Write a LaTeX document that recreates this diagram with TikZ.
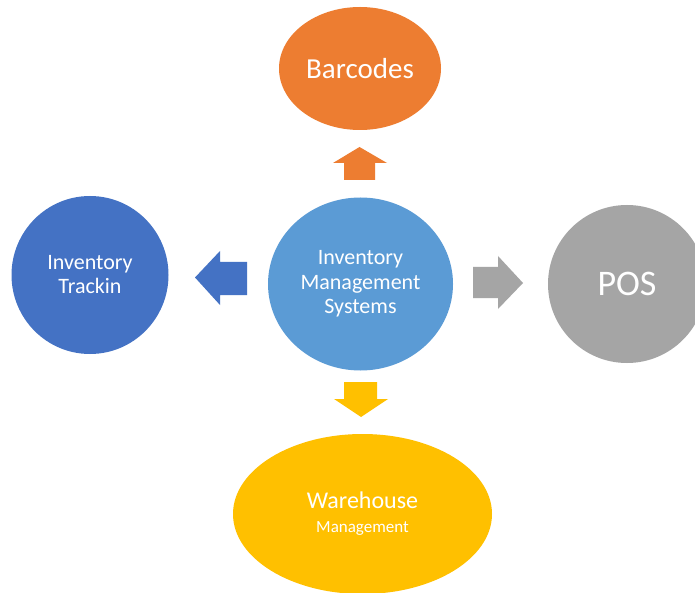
\documentclass[tikz,border=0pt]{standalone}
\usepackage{fontspec}
\setmainfont{Carlito}
\usetikzlibrary{shapes.geometric}
\definecolor{cOrange}{HTML}{ED7D31}
\definecolor{cBlue}{HTML}{4472C4}
\definecolor{cLight}{HTML}{5B9BD5}
\definecolor{cGray}{HTML}{A5A5A5}
\definecolor{cGold}{HTML}{FFC000}
\begin{document}
\begin{tikzpicture}[x=1pt,y=-1pt,
  bubble/.style={ellipse, inner sep=0pt, text=white, align=center}]
\path[use as bounding box] (0,0) rectangle (695,593);
\clip (0,0) rectangle (695,593);
\fill[white] (0,0) rectangle (695,593);
% nodes
\node[bubble, fill=cOrange, minimum width=162pt, minimum height=123pt,
  font=\fontsize{29}{32}\selectfont] (bar) at (360,68.5) {Barcodes};
\node[bubble, fill=cLight, minimum width=185pt, minimum height=173pt,
  font=\fontsize{22}{24.5}\selectfont] (ims) at (360.5,284) {Inventory\\Management\\Systems};
\node[bubble, fill=cBlue, minimum width=157pt, minimum height=158pt,
  font=\fontsize{22}{24}\selectfont] (trk) at (90,275) {Inventory\\Trackin};
\node[bubble, fill=cGray, minimum width=158pt, minimum height=158pt,
  font=\fontsize{36}{38}\selectfont] (pos) at (627,284) {POS};
\node[bubble, fill=cGold, minimum width=259pt, minimum height=160pt,
  font=\fontsize{24}{25}\selectfont] (wh) at (362.5,514)
  {Warehouse\\[-1pt]{\fontsize{17}{20}\selectfont Management}};
% block arrows
\fill[cOrange] (344,180) -- (344,163) -- (333,163) -- (359.5,147) -- (387,163) -- (375,163) -- (375,180) -- cycle;
\fill[cBlue] (247,262) -- (220,262) -- (220,251) -- (195,277.5) -- (220,305) -- (220,295) -- (247,295) -- cycle;
\fill[cGray] (473,267) -- (498,267) -- (498,256) -- (523,283) -- (498,309) -- (498,298) -- (473,298) -- cycle;
\fill[cGold] (344,382) -- (377,382) -- (377,399) -- (388,399) -- (361,417) -- (334,399) -- (344,399) -- cycle;
\end{tikzpicture}
\end{document}
